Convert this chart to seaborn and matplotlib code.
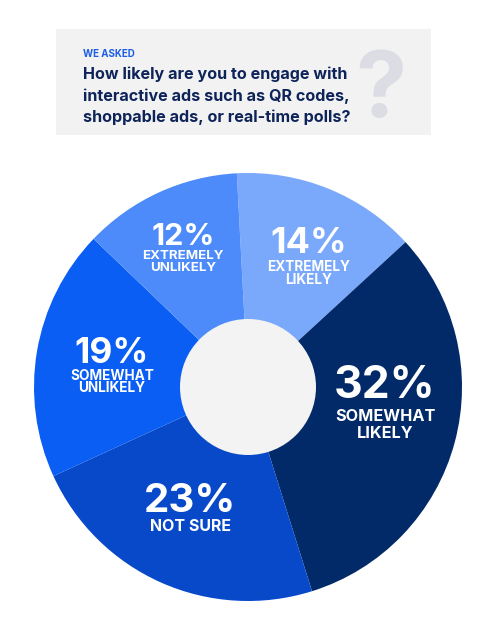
import matplotlib
matplotlib.use("Agg")
import matplotlib.pyplot as plt
import seaborn as sns
from matplotlib.patches import Circle, Rectangle

# survey answers, clockwise from the top
answers = ["EXTREMELY\nLIKELY", "SOMEWHAT\nLIKELY", "NOT SURE", "SOMEWHAT\nUNLIKELY", "EXTREMELY\nUNLIKELY"]
shares = [14, 32, 23, 19, 12]
colors = ["#7aa9fb", "#022a69", "#0749c9", "#0a5ef4", "#4c8bf9"]

question = ["How likely are you to engage with",
            "interactive ads such as QR codes,",
            "shoppable ads, or real-time polls?"]

W, H = 500, 627
CX, CY, R = 248, 387, 214

sns.set_theme(style="white")
plt.rcParams["font.family"] = ["Inter", "DejaVu Sans"]

fig = plt.figure(figsize=(W / 100, H / 100), dpi=100)
fig.patch.set_facecolor("white")


def fx(x):
    return x / W


def fy(y):
    return 1 - y / H


# header box
fig.patches.append(Rectangle((fx(56), fy(135)), fx(431) - fx(56), fy(29) - fy(135),
                             transform=fig.transFigure, facecolor="#f2f2f3", edgecolor="none", zorder=0))
fig.text(fx(83), fy(57), "WE ASKED", fontsize=7, fontweight="bold", color="#1d5ce6", va="baseline")
for i, line in enumerate(question):
    fig.text(fx(83), fy(79 + i * 21.5), line, fontsize=11.6, fontweight="bold", color="#0e2459",
             va="baseline")
fig.text(fx(381), fy(117), "?", fontsize=66, fontweight="bold", color="#dcdde4",
         ha="center", va="baseline")

# pie
ax = fig.add_axes([fx(CX - R), fy(CY + R), 2 * R / W, 2 * R / H])
ax.pie(shares, colors=colors, startangle=93, counterclock=False, radius=1,
       wedgeprops=dict(linewidth=0))
ax.add_patch(Circle((0, 0), 68 / R, facecolor="#f3f3f3", edgecolor="none", zorder=3))
ax.set_xlim(-1, 1)
ax.set_ylim(-1, 1)
ax.set_aspect("equal")
ax.axis("off")

# label layout: (x, pct baseline, first label baseline, pct size, label size, line gap)
layout = [
    (309, 253, 271, 26, 9.8, 13),
    (385, 398, 421, 32, 11.7, 17),
    (190, 512, 531, 29, 11.5, 13),
    (112, 363, 380, 25.5, 9.8, 12.5),
    (183, 245, 259, 22, 9.6, 12),
]


def to_data(x, y):
    return (x - CX) / R, (CY - y) / R


for share, answer, (lx, py, ly, psz, lsz, gap) in zip(shares, answers, layout):
    ax.text(*to_data(lx, py), f"{share}%", fontsize=psz, fontweight="bold",
            color="white", ha="center", va="baseline", zorder=5)
    for i, line in enumerate(answer.split("\n")):
        ax.text(*to_data(lx, ly + i * gap), line, fontsize=lsz, fontweight="bold",
                color="white", ha="center", va="baseline", zorder=5)

fig.savefig("out.png", dpi=100)
